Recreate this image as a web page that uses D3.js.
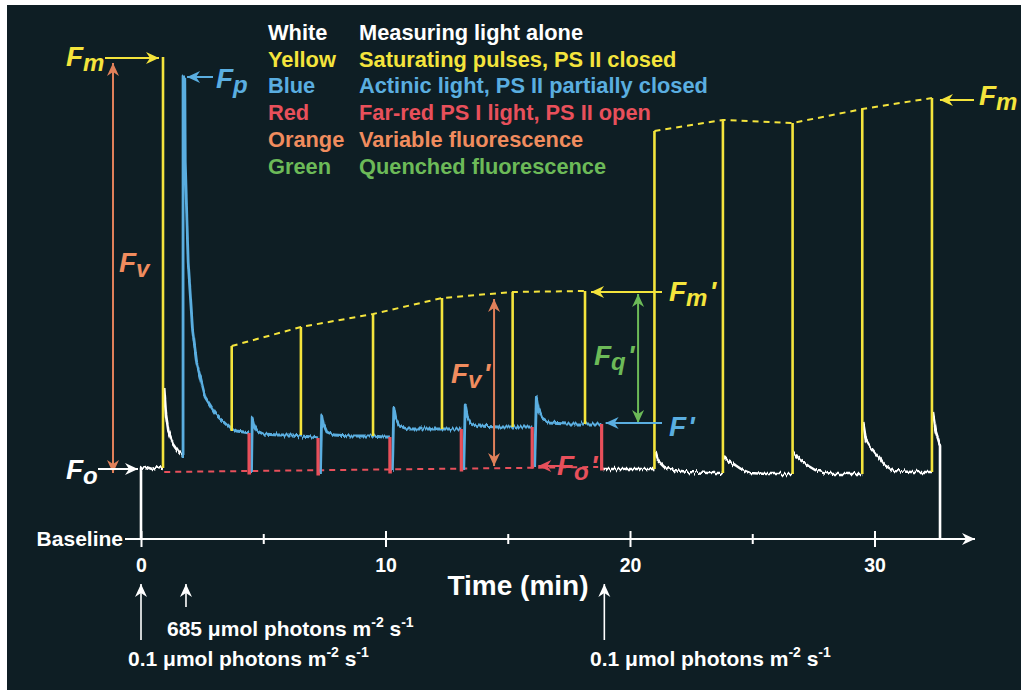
<!DOCTYPE html>
<html>
<head>
<meta charset="utf-8">
<script src="https://cdn.jsdelivr.net/npm/d3@7"></script>
<style>
  html, body { margin: 0; padding: 0; background: #fff; }
  svg { display: block; }
  text { font-family: "Liberation Sans", Arial, Helvetica, sans-serif; font-weight: bold; }
</style>
</head>
<body>
<svg id="chart" width="1021" height="690"></svg>
<script>
// ---- data (time in min, fluorescence in arbitrary units, 0 = baseline) ----
const majorTicks = [0, 10, 20, 30];
const minorTicks = [5, 15, 25];

// first saturating pulse (dark adapted)
const firstPulseT = 0.9;
const fo = 71;
const fm = 482;
const fp = 462;

// saturating pulses under actinic light
const actinicPulseT = [3.71, 6.54, 9.49, 12.31, 15.2, 18.16];
const actinicPulseBase = [108, 104, 103, 110, 112, 115];
const actinicPulseTop = [193, 212, 225, 241, 247, 248];

// far-red dips
const farRedT = [4.42, 7.24, 10.18, 13.1, 16.0, 18.84];
const farRedBefore = [106, 101, 102, 110, 112, 115];
const farRedBottom = [66, 65, 67, 69, 72, 70];

// recovery pulses after actinic light is off
const recoveryPulseT = [21.0, 23.8, 26.65, 29.5, 32.35];
const recoveryPulseBase = [70, 66, 65, 65, 67];
const recoveryPulseTop = [408, 419, 416, 430, 441];

// dashed Fo' guide
const foPrimeGuide = [[0.95, 67], [18.7, 72]];

// measuring light only (white)
const whiteSegments = [
  [[0, 0], [0, 71], [0.2, 72], [0.45, 70], [0.7, 72], [0.9, 71]],
  [[0.95, 151], [1.02, 125], [1.12, 108], [1.3, 96], [1.5, 89], [1.68, 84]],
  [[18.9, 70], [19.5, 70], [20.2, 70], [21.0, 70]],
  [[21.04, 87], [21.15, 78], [21.4, 72], [21.8, 69], [22.4, 67], [23.2, 66], [23.8, 66]],
  [[23.84, 82], [24.0, 78], [24.3, 74], [24.6, 69], [24.9, 66], [25.6, 65], [26.65, 65]],
  [[26.69, 87], [26.85, 81], [27.08, 77], [27.3, 73], [27.57, 69], [28.2, 65], [29.0, 65], [29.5, 65]],
  [[29.54, 116], [29.65, 99], [29.8, 93], [30.0, 87], [30.4, 74], [30.8, 68], [31.5, 67], [32.35, 67]],
  [[32.39, 126], [32.5, 108], [32.68, 94], [32.68, 0]]
];

// actinic light (blue)
const blueSegments = [
  [[1.72, 82], [1.72, 462], [1.79, 462], [1.81, 376], [1.93, 276], [2.11, 209], [2.28, 176], [2.62, 142],
   [3.03, 126], [3.64, 112], [3.9, 108], [4.2, 107], [4.42, 106]],
  [[4.52, 66], [4.55, 121], [4.62, 114], [4.75, 108], [5.0, 105], [5.6, 104], [6.2, 104], [6.54, 103], [7.0, 102], [7.24, 101]],
  [[7.34, 65], [7.39, 124], [7.46, 115], [7.6, 107], [7.9, 104], [8.6, 103], [9.49, 103], [9.9, 102], [10.18, 102]],
  [[10.28, 67], [10.34, 131], [10.42, 120], [10.55, 113], [10.9, 110], [11.6, 110], [12.31, 110], [12.8, 110], [13.1, 110]],
  [[13.2, 69], [13.26, 134], [13.34, 123], [13.48, 116], [13.8, 113], [14.6, 112], [15.2, 112], [15.7, 112], [16.0, 112]],
  [[16.1, 72], [16.17, 142], [16.25, 130], [16.4, 121], [16.7, 116], [17.4, 115], [18.16, 115], [18.6, 115], [18.84, 115]]
];

const legendNames = ["White", "Yellow", "Blue", "Red", "Orange", "Green"];
const legendText = ["Measuring light alone", "Saturating pulses, PS II closed", "Actinic light, PS II partially closed",
  "Far-red PS I light, PS II open", "Variable fluorescence", "Quenched fluorescence"];

const lightChangeT = [0, 1.84, 18.95];
const lightChangeValue = ["0.1", "685", "0.1"];

// ---- drawing ----
const C = {
  bg: "#0e1e24", white: "#ffffff", yellow: "#f4e43c", blue: "#5aaee0",
  red: "#e8505b", orange: "#f08c5e", orangeArrow: "#e0805a", green: "#6cba58"
};
const legendColors = [C.white, C.yellow, C.blue, C.red, C.orange, C.green];

const svg = d3.select("#chart");
const W = 1021, H = 690;

svg.append("rect").attr("x", 7).attr("y", 5).attr("width", W - 7).attr("height", H - 5).attr("fill", C.bg);

const x = d3.scaleLinear().domain([0, 30]).range([141, 874.5]);
const y = d3.scaleLinear().domain([0, 500]).range([539, 39]);
const line = d3.line().x(d => x(d[0])).y(d => y(d[1]));

const defs = svg.append("defs");

// noise texture for the recorded trace
const noise = defs.append("filter").attr("id", "noise")
  .attr("filterUnits", "userSpaceOnUse").attr("x", 0).attr("y", 0).attr("width", W).attr("height", H);
noise.append("feTurbulence").attr("type", "fractalNoise").attr("baseFrequency", "0.5 0.03")
  .attr("numOctaves", 2).attr("seed", 3).attr("result", "turb");
noise.append("feColorMatrix").attr("in", "turb").attr("type", "matrix")
  .attr("values", "0 0 0 0 0.5  0 1 0 0 0  0 0 0 0 0.5  0 0 0 0 1").attr("result", "map");
noise.append("feDisplacementMap").attr("in", "SourceGraphic").attr("in2", "map")
  .attr("scale", 7).attr("xChannelSelector", "R").attr("yChannelSelector", "G");

function marker(id, color) {
  defs.append("marker").attr("id", id)
    .attr("viewBox", "-14 -7 16 14").attr("refX", 0).attr("refY", 0)
    .attr("markerWidth", 16).attr("markerHeight", 14).attr("markerUnits", "userSpaceOnUse")
    .attr("orient", "auto-start-reverse")
    .append("path").attr("d", "M0,0 L-13,-6 L-9,0 L-13,6 Z").attr("fill", color);
}
marker("arW", C.white); marker("arY", C.yellow); marker("arB", C.blue);
marker("arR", C.red); marker("arO", C.orangeArrow); marker("arG", C.green);

function arrow(x1, y1, x2, y2, color, id, both) {
  const l = svg.append("line").attr("x1", x1).attr("y1", y1).attr("x2", x2).attr("y2", y2)
    .attr("stroke", color).attr("stroke-width", 2).attr("marker-end", `url(#${id})`);
  if (both) l.attr("marker-start", `url(#${id})`);
  return l;
}

// axis
const axisY = y(0);
svg.append("line").attr("x1", 125).attr("x2", 975).attr("y1", axisY).attr("y2", axisY)
  .attr("stroke", C.white).attr("stroke-width", 2.2).attr("marker-end", "url(#arW)");

const axMajor = svg.append("g").attr("transform", `translate(0,${axisY})`)
  .call(d3.axisBottom(x).tickValues(majorTicks).tickSize(8).tickPadding(11).tickFormat(d3.format("d")));
const axMinor = svg.append("g").attr("transform", `translate(0,${axisY})`)
  .call(d3.axisBottom(x).tickValues(minorTicks).tickSize(5).tickFormat(""));
[axMajor, axMinor].forEach(g => {
  g.select(".domain").remove();
  g.attr("font-family", null).attr("font-size", null);
  g.selectAll(".tick line").attr("stroke", C.white).attr("stroke-width", 2);
});
axMajor.selectAll(".tick line").attr("y1", -8);
axMinor.selectAll(".tick line").attr("y1", -5);
axMajor.selectAll(".tick text").attr("fill", C.white).style("font-size", "19.5px");

svg.append("text").attr("x", 123).attr("y", axisY + 7).attr("text-anchor", "end")
  .attr("fill", C.white).style("font-size", "21px").text("Baseline");
svg.append("text").attr("x", 518).attr("y", 595).attr("text-anchor", "middle")
  .attr("fill", C.white).style("font-size", "28px").text("Time (min)");

// dashed guides
svg.append("path").attr("d", line(foPrimeGuide)).attr("fill", "none")
  .attr("stroke", C.red).attr("stroke-width", 2).attr("stroke-dasharray", "6,5");
svg.append("path").attr("d", line(d3.zip(actinicPulseT, actinicPulseTop))).attr("fill", "none")
  .attr("stroke", C.yellow).attr("stroke-width", 2).attr("stroke-dasharray", "6,5");
svg.append("path").attr("d", line(d3.zip(recoveryPulseT, recoveryPulseTop))).attr("fill", "none")
  .attr("stroke", C.yellow).attr("stroke-width", 2).attr("stroke-dasharray", "6,5");

// trace
const trace = svg.append("g").attr("filter", "url(#noise)");
trace.selectAll("path.w").data(whiteSegments).join("path").attr("class", "w")
  .attr("d", line).attr("fill", "none").attr("stroke", C.white).attr("stroke-width", 2.6)
  .attr("stroke-linejoin", "round");
trace.selectAll("path.b").data(blueSegments).join("path").attr("class", "b")
  .attr("d", line).attr("fill", "none").attr("stroke", C.blue).attr("stroke-width", 2.8)
  .attr("stroke-linejoin", "round");

svg.selectAll("path.r").data(d3.range(farRedT.length)).join("path").attr("class", "r")
  .attr("d", i => line([[farRedT[i], farRedBefore[i]], [farRedT[i], farRedBottom[i]], [farRedT[i] + 0.08, farRedBottom[i]]]))
  .attr("fill", "none").attr("stroke", C.red).attr("stroke-width", 3.2);

// saturating pulses
const pulses = [[firstPulseT, fo, fm]]
  .concat(d3.range(actinicPulseT.length).map(i => [actinicPulseT[i], actinicPulseBase[i], actinicPulseTop[i]]))
  .concat(d3.range(recoveryPulseT.length).map(i => [recoveryPulseT[i], recoveryPulseBase[i], recoveryPulseTop[i]]));
svg.selectAll("line.p").data(pulses).join("line").attr("class", "p")
  .attr("x1", d => x(d[0])).attr("x2", d => x(d[0]))
  .attr("y1", d => y(d[1])).attr("y2", d => y(d[2]))
  .attr("stroke", C.yellow).attr("stroke-width", 2.6);

// legend
const leg = svg.append("g").style("font-size", "21.8px");
legendNames.forEach((n, i) => {
  leg.append("text").attr("x", 268).attr("y", 40 + i * 26.7).attr("fill", legendColors[i]).text(n);
  leg.append("text").attr("x", 359).attr("y", 40 + i * 26.7).attr("fill", legendColors[i]).text(legendText[i]);
});

// F labels
function fLabel(px, py, sub, prime, color) {
  const t = svg.append("text").attr("x", px).attr("y", py).attr("fill", color)
    .style("font-style", "italic").style("font-size", "28px");
  t.append("tspan").text("F");
  if (sub) t.append("tspan").attr("dy", 5).style("font-size", "24px").text(sub);
  if (prime) t.append("tspan").attr("dy", sub ? -5 : 0).attr("dx", 2).text("'");
}

const xPulse0 = x(firstPulseT);
arrow(105, y(fm) + 1, xPulse0 - 4, y(fm) + 1, C.yellow, "arY");
fLabel(66, 66, "m", false, C.yellow);
arrow(113, y(fm) + 6, 113, y(fo) + 5, C.orangeArrow, "arO", true);
fLabel(119, 272, "v", false, C.orange);
arrow(98, y(fo) + 1, x(0) - 3, y(fo) + 1, C.white, "arW");
fLabel(66, 479, "o", false, C.white);
arrow(213, y(fp), x(blueSegments[0][1][0]) + 4, y(fp), C.blue, "arB");
fLabel(216, 88, "p", false, C.blue);

const xFv2 = x(14.44);
arrow(xFv2, y(actinicPulseTop[3]) + 1, xFv2, y(73), C.orangeArrow, "arO", true);
fLabel(451, 383, "v", true, C.orange);
arrow(562, y(73), x(16.25), y(73), C.red, "arR");
fLabel(557, 475, "o", true, C.red);

const xLast = x(actinicPulseT[5]);
arrow(662, y(actinicPulseTop[5]) + 1, xLast + 6, y(actinicPulseTop[5]) + 1, C.yellow, "arY");
fLabel(669, 301, "m", true, C.yellow);
arrow(x(20.33), y(actinicPulseTop[5]) + 3, x(20.33), y(116), C.green, "arG", true);
fLabel(594, 365, "q", true, C.green);
arrow(662, y(116), x(farRedT[5]) + 4, y(116), C.blue, "arB");
fLabel(669, 436, null, true, C.blue);

const lastR = recoveryPulseT.length - 1;
arrow(974, y(recoveryPulseTop[lastR]) + 2, x(recoveryPulseT[lastR]) + 8, y(recoveryPulseTop[lastR]) + 2, C.yellow, "arY");
fLabel(979, 105, "m", false, C.yellow);

// light change notes
const tails = [640, 607, 640];
const textPos = [[128, 666], [167, 636], [590, 666]];
lightChangeT.forEach((t, i) => {
  arrow(x(t), tails[i], x(t), 584, C.white, "arW").attr("stroke-width", 1.6);
  const tx = svg.append("text").attr("x", textPos[i][0]).attr("y", textPos[i][1])
    .attr("fill", C.white).style("font-size", "21px");
  tx.append("tspan").text(`${lightChangeValue[i]} μmol photons m`);
  tx.append("tspan").attr("dy", -9).style("font-size", "14px").text("-2");
  tx.append("tspan").attr("dy", 9).text(" s");
  tx.append("tspan").attr("dy", -9).style("font-size", "14px").text("-1");
});
</script>
</body>
</html>
